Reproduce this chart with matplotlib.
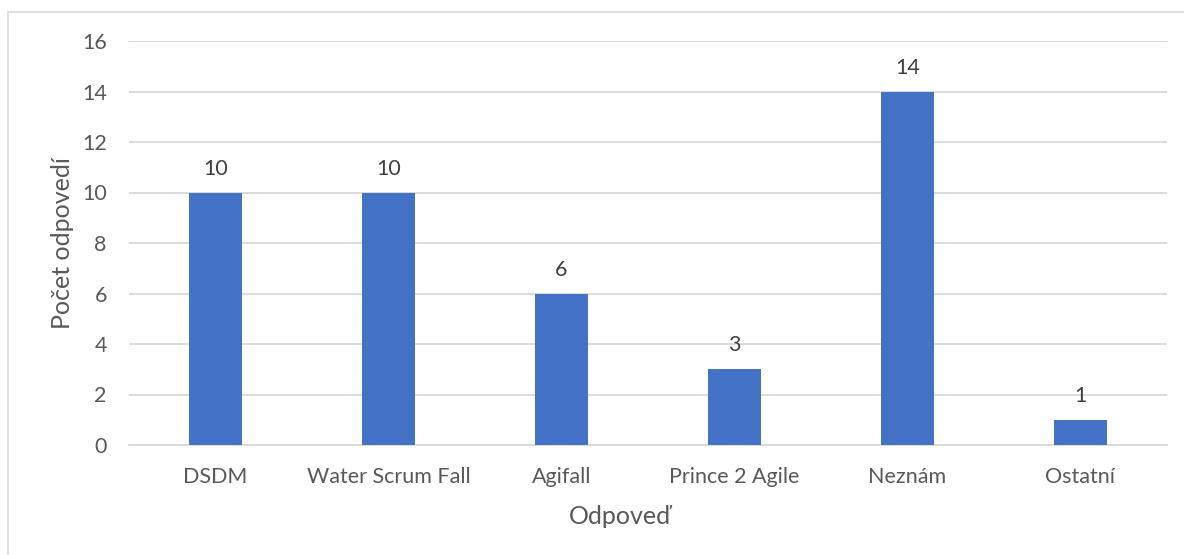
import matplotlib
matplotlib.use("Agg")
import matplotlib.pyplot as plt
from matplotlib.patches import Rectangle

categories = ["DSDM", "Water Scrum Fall", "Agifall", "Prince 2 Agile", "Neznám", "Ostatní"]
values = [10, 10, 6, 3, 14, 1]
yticks = [0, 2, 4, 6, 8, 10, 12, 14, 16]

plt.rcParams['font.family'] = ['Lato', 'DejaVu Sans']
txt = "#595959"

fig = plt.figure(figsize=(11.84, 5.55), dpi=100)
fig.patches.append(Rectangle((8/1184, -0.2), 1.0, 1.2 - 12/555, transform=fig.transFigure,
                             fill=False, edgecolor="#d9d9d9", linewidth=1.2))
ax = fig.add_axes([129/1184, 1 - 445/555, (1167 - 129)/1184, (445 - 41)/555])

x = list(range(len(categories)))
bars = ax.bar(x, values, width=0.31, color="#4472C4", zorder=3)
for xi, v in zip(x, values):
    ax.annotate(str(v), (xi, v), xytext=(0, 10), textcoords="offset points",
                ha="center", va="bottom", fontsize=15.5, color="#404040")

ax.set_xlim(-0.5, len(categories) - 0.5)
ax.set_ylim(0, 16)
ax.set_yticks(yticks)
ax.set_xticks(x)
ax.set_xticklabels(categories)
ax.yaxis.grid(True, color="#d9d9d9", linewidth=1.3, zorder=0)
for s in ["top", "right", "left"]:
    ax.spines[s].set_visible(False)
ax.spines["bottom"].set_color("#d9d9d9")
ax.spines["bottom"].set_linewidth(1.3)
ax.tick_params(axis="both", length=0, labelsize=15.5, labelcolor=txt)
ax.tick_params(axis="x", pad=16)
ax.tick_params(axis="y", pad=16)
ax.set_xlabel("Odpoveď", fontsize=18, color=txt, va="center")
ax.set_ylabel("Počet odpovedí", fontsize=18, color=txt, va="center")
ax.xaxis.set_label_coords((620 - 129) / 1038, (445 - 517) / 404)
ax.yaxis.set_label_coords((62 - 129) / 1038, 0.5)

fig.savefig("out.png", dpi=100)
